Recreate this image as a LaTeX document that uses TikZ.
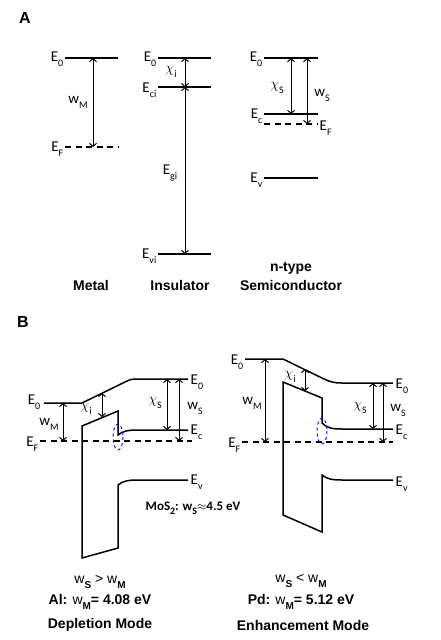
\documentclass[tikz,border=0pt]{standalone}
\usepackage{fontspec}
\setmainfont{Carlito}
\newfontfamily\arialfont{Liberation Sans}
\usetikzlibrary{arrows.meta}
\newcommand{\sub}[1]{\raisebox{-0.7ex}{\fontsize{10}{10}\selectfont #1}}

\begin{document}
\begin{tikzpicture}[x=1pt,y=-1pt,
  level/.style={line width=1.5pt},
  fermi/.style={line width=1.5pt,dash pattern=on 6pt off 4.5pt},
  gap/.style={line width=1pt,{Straight Barb[length=3pt,width=7pt]}-{Straight Barb[length=3pt,width=7pt]}},
  lbl/.style={font=\fontsize{15}{15}\selectfont,inner sep=1.5pt},
  title/.style={font=\arialfont\bfseries\fontsize{14}{14}\selectfont},
  spot/.style={draw=blue!85!black,dashed,line width=0.9pt}]

\useasboundingbox (0,0) rectangle (440,640);

% panel A
\path (25,18) node[font=\arialfont\bfseries\fontsize{16}{16}\selectfont] (pA) {A};

% metal
\draw[level] (65,58) -- (118,58);
\draw[fermi] (65,147) -- (118,147);
\coordinate (mTop) at (93,58);
\coordinate (mBot) at (93,147);
\draw[gap] (mTop) -- (mBot);
\path (65,59) node[lbl,anchor=east] (mE0) {E\sub{0}};
\path (65,149) node[lbl,anchor=east] (mEF) {E\sub{F}};
\path (78,102) node[lbl] (mWM) {w\sub{M}};
\path (91,285) node[title] (mName) {Metal};

% insulator
\draw[level] (158,58) -- (211,58);
\draw[level] (158,87) -- (211,87);
\draw[level] (158,254) -- (211,254);
\coordinate (iTop) at (185,58);
\coordinate (iMid) at (185,87);
\coordinate (iBot) at (185,254);
\draw[gap] (iTop) -- (iMid);
\draw[gap] (iMid) -- (iBot);
\path (158,59) node[lbl,anchor=east] (iE0) {E\sub{0}};
\path (158,90) node[lbl,anchor=east] (iEc) {E\sub{ci}};
\path (158,256) node[lbl,anchor=east] (iEv) {E\sub{vi}};
\path (171,72) node[lbl] (iChi) {$\chi$\sub{i}};
\path (170,173) node[lbl] (iEg) {E\sub{gi}};
\path (180,285) node[title] (iName) {Insulator};

% n-type semiconductor
\draw[level] (264,58) -- (318,58);
\draw[level] (264,114) -- (318,114);
\draw[fermi] (264,124) -- (318,124);
\draw[level] (264,178) -- (318,178);
\coordinate (sTop1) at (291,58);
\coordinate (sEc) at (291,114);
\coordinate (sTop2) at (307,58);
\coordinate (sEF) at (307,124);
\draw[gap] (sTop1) -- (sEc);
\draw[gap] (sTop2) -- (sEF);
\path (264,59) node[lbl,anchor=east] (sE0) {E\sub{0}};
\path (264,116) node[lbl,anchor=east] (sEcl) {E\sub{c}};
\path (318,128) node[lbl,anchor=west] (sEFl) {E\sub{F}};
\path (264,180) node[lbl,anchor=east] (sEv) {E\sub{v}};
\path (277,88) node[lbl] (sChi) {$\chi$\sub{S}};
\path (322,95) node[lbl] (sWS) {w\sub{S}};
\path (291,268) node[title] (sName1) {n-type};
\path (291,285) node[title] (sName2) {Semiconductor};

% panel B
\path (23,322) node[font=\arialfont\bfseries\fontsize{16}{16}\selectfont] (pB) {B};

% depletion mode (Al)
\draw[level] (44,403) -- (82,403) -- (125,382)
  .. controls (129,380) and (131,379) .. (137,379) -- (188,379);
\draw[level] (188,430) -- (137,430) .. controls (128,430) and (123,431) .. (118,435)
  -- (118,411) -- (82,426) -- (82,558) -- (118,548) -- (118,485)
  .. controls (123,481) and (128,480) .. (137,480) -- (188,480);
\draw[fermi] (40,441) -- (192,441);
\draw[spot] (118,437) ellipse (5 and 13);
\coordinate (dM0) at (63,403);
\coordinate (dMF) at (63,441);
\coordinate (dI0) at (102,393);
\coordinate (dI1) at (102,417);
\coordinate (dS0a) at (167,379);
\coordinate (dSc) at (167,430);
\coordinate (dS0b) at (179,379);
\coordinate (dSF) at (179,441);
\draw[gap] (dM0) -- (dMF);
\draw[gap] (dI0) -- (dI1);
\draw[gap] (dS0a) -- (dSc);
\draw[gap] (dS0b) -- (dSF);
\path (42,402) node[lbl,anchor=east] (dE0l) {E\sub{0}};
\path (40,444) node[lbl,anchor=east] (dEF) {E\sub{F}};
\path (189,382) node[lbl,anchor=west] (dE0r) {E\sub{0}};
\path (189,432) node[lbl,anchor=west] (dEc) {E\sub{c}};
\path (189,482) node[lbl,anchor=west] (dEv) {E\sub{v}};
\path (49,424) node[lbl] (dWM) {w\sub{M}};
\path (86,409) node[lbl] (dChi) {$\chi$\sub{i}};
\path (155,403) node[lbl] (dChiS) {$\chi$\sub{S}};
\path (195,408) node[lbl] (dWS) {w\sub{S}};
\path (193,508) node[lbl,font=\bfseries\fontsize{13}{13}\selectfont] (moS) {MoS\sub{2}: w\sub{S}$\approx$4.5 eV};
\path (100,582) node[font=\arialfont\fontsize{14}{14}\selectfont] (dRel) {w\sub{\bfseries S} > w\sub{\bfseries M}};
\path (100,602) node[title] (dMet) {Al: {\mdseries w}\sub{M}= 4.08 eV};
\path (100,625) node[title] (dMode) {Depletion Mode};

% enhancement mode (Pd)
\draw[level] (245,359) -- (283,359) -- (322,378)
  .. controls (330,382) and (334,383) .. (342,383) -- (393,383);
\draw[level] (393,429) -- (342,429) .. controls (332,429) and (327,428) .. (322,423)
  -- (322,398) -- (283,382) -- (283,515) -- (322,532) -- (322,475)
  .. controls (327,479) and (332,480) .. (342,480) -- (393,480);
\draw[fermi] (242,442) -- (393,442);
\draw[spot] (322,431) ellipse (5 and 13);
\coordinate (eM0) at (265,359);
\coordinate (eMF) at (265,442);
\coordinate (eI0) at (305,369);
\coordinate (eI1) at (305,391);
\coordinate (eS0a) at (373,383);
\coordinate (eSc) at (373,429);
\coordinate (eS0b) at (383,383);
\coordinate (eSF) at (383,442);
\draw[gap] (eM0) -- (eMF);
\draw[gap] (eI0) -- (eI1);
\draw[gap] (eS0a) -- (eSc);
\draw[gap] (eS0b) -- (eSF);
\path (245,362) node[lbl,anchor=east] (eE0l) {E\sub{0}};
\path (242,445) node[lbl,anchor=east] (eEF) {E\sub{F}};
\path (394,386) node[lbl,anchor=west] (eE0r) {E\sub{0}};
\path (394,432) node[lbl,anchor=west] (eEc) {E\sub{c}};
\path (394,484) node[lbl,anchor=west] (eEv) {E\sub{v}};
\path (252,403) node[lbl] (eWM) {w\sub{M}};
\path (290,377) node[lbl] (eChi) {$\chi$\sub{i}};
\path (360,408) node[lbl] (eChiS) {$\chi$\sub{S}};
\path (398,410) node[lbl] (eWS) {w\sub{S}};
\path (301,581) node[font=\arialfont\fontsize{14}{14}\selectfont] (eRel) {w\sub{\bfseries S} < w\sub{\bfseries M}};
\path (301,602) node[title] (eMet) {Pd: {\mdseries w}\sub{M}= 5.12 eV};
\path (303,625) node[title] (eMode) {Enhancement Mode};
\end{tikzpicture}
\end{document}
